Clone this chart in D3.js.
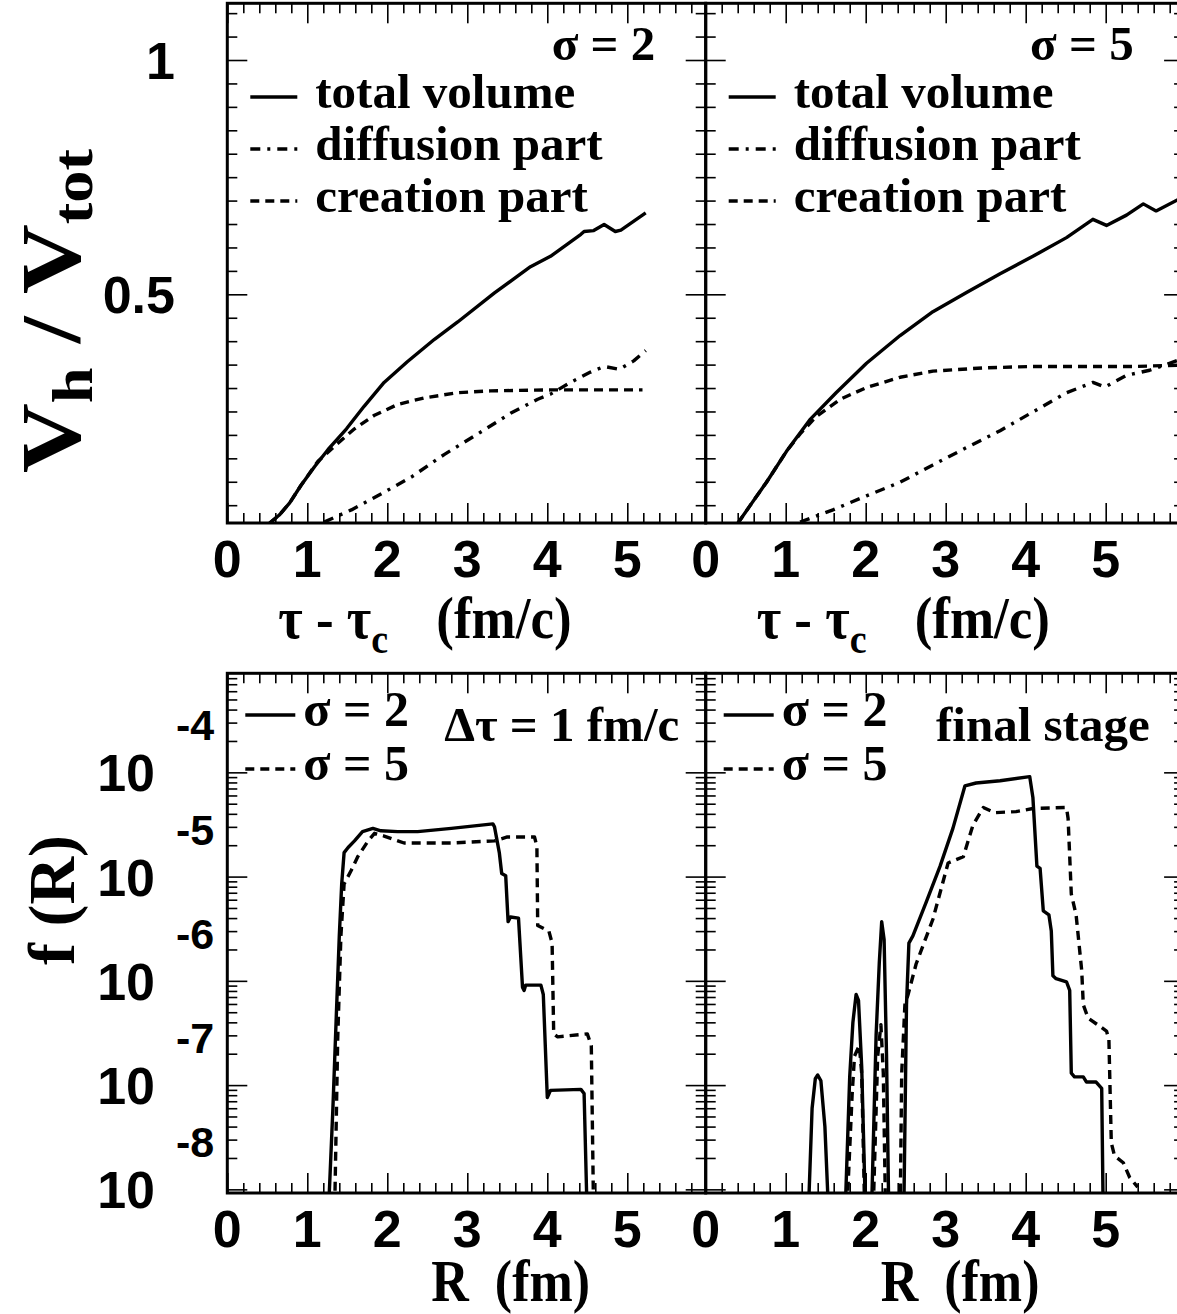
<!DOCTYPE html>
<html lang="en">
<head>
<meta charset="utf-8" />
<title>Vh/Vtot and f(R)</title>
<style>
  body { margin: 0; background: #fff; }
  .sans { font-family: "Liberation Sans", Arial, sans-serif; font-weight: bold; }
  .serif { font-family: "Liberation Serif", "Times New Roman", serif; font-weight: bold; }
</style>
</head>
<body>
<div id="chart"></div>
<script src="https://d3js.org/d3.v7.min.js"></script>
<script>
// ---------------- data ----------------
const tauTicks = [0, 1, 2, 3, 4, 5];
const volTicks = [0.5, 1];
const volTickLabels = ["0.5", "1"];
const logDecades = [-8, -7, -6, -5, -4];

// top panels: [tau - tau_c, Vh/Vtot]
const totS2 = [[0.53,0.012],[0.65,0.029],[0.78,0.055],[0.92,0.092],[1.09,0.132],[1.26,0.169],[1.49,0.213],[1.71,0.261],[1.96,0.312],[2.25,0.356],[2.59,0.404],[2.88,0.441],[3.34,0.503],[3.79,0.559],[4.04,0.581],[4.42,0.628],[4.46,0.634],[4.58,0.636],[4.71,0.649],[4.85,0.634],[4.92,0.637],[5.23,0.674]];
const creS2 = [[0.53,0.012],[0.65,0.029],[0.78,0.055],[0.92,0.092],[1.13,0.143],[1.36,0.179],[1.59,0.213],[1.84,0.242],[2.13,0.265],[2.46,0.279],[2.88,0.290],[3.29,0.294],[4.04,0.296],[5.19,0.296]];
const difS2 = [[1.21,0.014],[1.55,0.040],[1.88,0.070],[2.30,0.110],[2.71,0.158],[3.13,0.202],[3.54,0.246],[3.88,0.276],[4.04,0.287],[4.29,0.312],[4.54,0.334],[4.71,0.346],[4.90,0.340],[5.08,0.358],[5.23,0.380]];

const totS5 = [[0.40,0.011],[0.55,0.048],[0.76,0.099],[1.01,0.165],[1.30,0.232],[1.63,0.290],[2.01,0.353],[2.43,0.412],[2.84,0.463],[3.26,0.504],[3.68,0.544],[4.09,0.581],[4.51,0.621],[4.84,0.660],[5.01,0.647],[5.26,0.669],[5.47,0.693],[5.63,0.678],[5.95,0.706]];
const creS5 = [[0.40,0.011],[0.55,0.048],[0.76,0.099],[1.01,0.165],[1.18,0.202],[1.38,0.239],[1.68,0.276],[2.01,0.301],[2.43,0.323],[2.84,0.336],[3.47,0.343],[4.09,0.346],[5.34,0.346],[5.95,0.349]];
const difS5 = [[1.18,0.014],[1.59,0.040],[2.01,0.070],[2.43,0.099],[2.84,0.136],[3.26,0.173],[3.68,0.209],[4.09,0.249],[4.51,0.290],[4.84,0.312],[4.99,0.302],[5.26,0.327],[5.55,0.338],[5.95,0.362]];

// bottom panels: [R, f(R)]
const dtS2 = [[1.26,5e-9],[1.32,6.0e-8],[1.36,4.1e-7],[1.40,2.7e-6],[1.43,8.5e-6],[1.46,1.7e-5],[1.51,1.9e-5],[1.59,2.2e-5],[1.69,2.7e-5],[1.82,2.9e-5],[1.92,2.75e-5],[2.13,2.7e-5],[2.38,2.7e-5],[2.80,2.9e-5],[3.32,3.2e-5],[3.34,3.0e-5],[3.40,1.7e-5],[3.43,1.07e-5],[3.48,1.02e-5],[3.51,3.7e-6],[3.54,4.1e-6],[3.64,4.0e-6],[3.69,8.7e-7],[3.71,8.1e-7],[3.73,9.1e-7],[3.92,9.1e-7],[3.95,7.4e-7],[4.00,7.6e-8],[4.04,8.9e-8],[4.42,9.1e-8],[4.46,8.3e-8],[4.50,5e-9]];
const dtS5 = [[1.34,5e-9],[1.38,2.75e-7],[1.42,2.7e-6],[1.46,8.5e-6],[1.55,1.15e-5],[1.63,1.55e-5],[1.76,2.2e-5],[1.84,2.6e-5],[1.96,2.45e-5],[2.21,2.1e-5],[2.80,2.1e-5],[3.34,2.2e-5],[3.50,2.4e-5],[3.84,2.4e-5],[3.87,1.95e-5],[3.88,3.4e-6],[4.02,3.0e-6],[4.06,2.3e-6],[4.08,3.1e-7],[4.13,2.9e-7],[4.50,3.1e-7],[4.55,2.4e-7],[4.58,5e-9]];

const finS2 = [[1.28,5e-9],[1.33,6e-8],[1.37,1.15e-7],[1.40,1.25e-7],[1.44,1.1e-7],[1.49,4e-8],[1.54,5e-9],
  [1.74,5e-9],[1.80,1.2e-7],[1.84,4e-7],[1.88,7.4e-7],[1.91,6.5e-7],[1.95,1.5e-7],[2.00,5e-9],
  [2.07,5e-9],[2.13,3e-7],[2.17,1.5e-6],[2.20,3.7e-6],[2.23,2.5e-6],[2.26,2e-7],[2.29,5e-9],
  [2.475,5e-9],[2.51,5.9e-7],[2.54,2.3e-6],[2.59,2.7e-6],[2.76,5.8e-6],[2.93,1.26e-5],[3.09,2.9e-5],[3.24,7.4e-5],[3.38,7.9e-5],[3.68,8.3e-5],[4.05,9.1e-5],[4.09,5.75e-5],[4.14,1.26e-5],[4.18,1.2e-5],[4.22,4.7e-6],[4.29,4.3e-6],[4.32,3.0e-6],[4.34,1.12e-6],[4.38,1.05e-6],[4.51,9.8e-7],[4.55,8.1e-7],[4.57,1.3e-7],[4.61,1.2e-7],[4.72,1.2e-7],[4.76,1.07e-7],[4.88,1.07e-7],[4.95,9.3e-8],[4.97,5e-9]];
const finS5 = [[1.76,5e-9],[1.83,8e-8],[1.86,1.9e-7],[1.92,2.4e-7],[1.95,1.3e-7],[1.99,5e-9],
  [2.09,5e-9],[2.15,1.9e-7],[2.19,3.8e-7],[2.22,1.3e-7],[2.25,5e-9],
  [2.43,5e-9],[2.45,1.3e-7],[2.49,5.9e-7],[2.53,7.4e-7],[2.63,1.45e-6],[2.84,3.9e-6],[3.03,1.35e-5],[3.22,1.55e-5],[3.34,3.1e-5],[3.47,4.6e-5],[3.61,4.1e-5],[3.88,4.2e-5],[4.09,4.5e-5],[4.51,4.6e-5],[4.53,3.6e-5],[4.57,6.8e-6],[4.63,4.3e-6],[4.70,1.26e-6],[4.72,5.9e-7],[4.78,4.4e-7],[5.01,3.3e-7],[5.04,2.75e-7],[5.07,2.8e-8],[5.11,2.1e-8],[5.22,1.8e-8],[5.30,1.3e-8],[5.40,1.05e-8]];

// ---------------- layout ----------------
const W = 1177, H = 1314;
const colX = [227.3, 705.7], panelW = 478.4;
const topRow = { y0: 3.3, y1: 523 }, botRow = { y0: 673.3, y1: 1193 };

const styles = {
  solid: null,
  dash: "9,6",
  dashdot: "10,7,3,7"
};

const svg = d3.select("#chart").append("svg")
  .attr("width", W).attr("height", H);

const defs = svg.append("defs");

function xScale(col) {
  return d3.scaleLinear().domain([0, 5.98]).range([colX[col], colX[col] + panelW]);
}
const yTop = d3.scaleLinear().domain([0.012, 1.121]).range([topRow.y1, topRow.y0]);
const yBot = d3.scaleLog().domain([Math.pow(10, -8.035), Math.pow(10, -3.05)]).range([botRow.y1, botRow.y0]);

// minor tick values
const xMinor = d3.range(0, 6.0, 0.2).filter(v => Math.abs(v - Math.round(v)) > 0.01);
const yMinorTop = d3.range(0.05, 1.12, 0.05).filter(v => Math.abs(v * 2 - Math.round(v * 2)) > 0.01);
const yMinorBot = [];
for (let e = -9; e <= -4; e++) for (let k = 2; k <= 9; k++) {
  const v = k * Math.pow(10, e);
  if (v > yBot.domain()[0] && v < yBot.domain()[1]) yMinorBot.push(v);
}
const yMajorBot = logDecades.map(e => Math.pow(10, e)).filter(v => v > yBot.domain()[0] && v < yBot.domain()[1]);

function tickAxis(g, axis, len) {
  g.call(axis.tickSize(-len).tickFormat(""));
  g.select(".domain").remove();
  g.selectAll(".tick line").attr("stroke", "#000").attr("stroke-width", 1.6);
}

function drawPanel(col, row, y, yMajor, yMinor, series, id) {
  const x = xScale(col);
  const x0 = colX[col], x1 = x0 + panelW;
  const g = svg.append("g");

  // ticks on all four sides, pointing inwards
  [[d3.axisBottom, row.y1], [d3.axisTop, row.y0]].forEach(([fn, ty]) => {
    tickAxis(g.append("g").attr("transform", `translate(0,${ty})`), fn(x).tickValues(tauTicks), 20);
    tickAxis(g.append("g").attr("transform", `translate(0,${ty})`), fn(x).tickValues(xMinor), 10);
  });
  [[d3.axisLeft, x0], [d3.axisRight, x1]].forEach(([fn, tx]) => {
    tickAxis(g.append("g").attr("transform", `translate(${tx},0)`), fn(y).tickValues(yMajor), 20);
    tickAxis(g.append("g").attr("transform", `translate(${tx},0)`), fn(y).tickValues(yMinor), 10);
  });

  defs.append("clipPath").attr("id", id)
    .append("rect").attr("x", x0).attr("y", row.y0).attr("width", panelW).attr("height", row.y1 - row.y0);

  const line = d3.line().x(d => x(d[0])).y(d => y(d[1]));
  g.append("g").attr("clip-path", `url(#${id})`)
    .selectAll("path").data(series).join("path")
    .attr("d", d => line(d.values))
    .attr("fill", "none")
    .attr("stroke", "#000")
    .attr("stroke-width", 3.4)
    .attr("stroke-linejoin", "round")
    .attr("stroke-dasharray", d => styles[d.style]);

  g.append("rect")
    .attr("x", x0).attr("y", row.y0).attr("width", panelW).attr("height", row.y1 - row.y0)
    .attr("fill", "none").attr("stroke", "#000").attr("stroke-width", 3);

  return { g, x };
}

const pTL = drawPanel(0, topRow, yTop, volTicks, yMinorTop, [
  { values: totS2, style: "solid" }, { values: difS2, style: "dashdot" }, { values: creS2, style: "dash" }], "cTL");
const pTR = drawPanel(1, topRow, yTop, volTicks, yMinorTop, [
  { values: totS5, style: "solid" }, { values: difS5, style: "dashdot" }, { values: creS5, style: "dash" }], "cTR");
const pBL = drawPanel(0, botRow, yBot, yMajorBot, yMinorBot, [
  { values: dtS2, style: "solid" }, { values: dtS5, style: "dash" }], "cBL");
const pBR = drawPanel(1, botRow, yBot, yMajorBot, yMinorBot, [
  { values: finS2, style: "solid" }, { values: finS5, style: "dash" }], "cBR");

// ---------------- tick labels ----------------
[[pTL, 577], [pTR, 577], [pBL, 1247], [pBR, 1247]].forEach(([p, by]) => {
  svg.append("g").selectAll("text").data(tauTicks).join("text")
    .attr("class", "sans").attr("font-size", 52).attr("text-anchor", "middle")
    .attr("x", d => p.x(d)).attr("y", by).text(d => d);
});
svg.append("g").selectAll("text").data(volTicks).join("text")
  .attr("class", "sans").attr("font-size", 52).attr("text-anchor", "end")
  .attr("x", 175).attr("y", d => yTop(d) + 19).text((d, i) => volTickLabels[i]);

const decLab = svg.append("g").selectAll("g").data(logDecades).join("g");
decLab.append("text").attr("class", "sans").attr("font-size", 52).attr("text-anchor", "end")
  .attr("x", 155).attr("y", d => yBot(Math.pow(10, d)) + 19).text("10");
decLab.append("text").attr("class", "sans").attr("font-size", 43).attr("text-anchor", "start")
  .attr("x", 176).attr("y", d => yBot(Math.pow(10, d)) - 32).text(d => "-" + Math.abs(d));

// ---------------- axis titles ----------------
function tauTitle(x0) {
  const t = svg.append("text").attr("class", "serif").attr("font-size", 53)
    .attr("transform", `translate(${x0 + 51},638) scale(1,1.12)`);
  t.append("tspan").text("τ - τ");
  t.append("tspan").attr("font-size", 38).attr("dy", 13).text("c");
  svg.append("text").attr("class", "serif").attr("font-size", 53)
    .attr("transform", `translate(${x0 + 209},638) scale(1,1.12)`)
    .text("(fm/c)");
}
tauTitle(colX[0]); tauTitle(colX[1]);

function rTitle(x0) {
  const t = svg.append("text").attr("class", "serif").attr("font-size", 52)
    .attr("transform", `translate(${x0},1301) scale(1,1.15)`);
  t.append("tspan").text("R");
  t.append("tspan").attr("dx", 26).text("(fm)");
}
rTitle(colX[0] + 204); rTitle(colX[1] + 175);

const vt = svg.append("text").attr("class", "serif").attr("font-size", 84)
  .attr("text-anchor", "middle").attr("transform", "translate(80,311) rotate(-90) scale(1.15,1)");
vt.append("tspan").text("V");
vt.append("tspan").attr("font-size", 56).attr("dy", 12).text("h");
vt.append("tspan").attr("dy", -12).text(" / V");
vt.append("tspan").attr("font-size", 56).attr("dy", 12).text("tot");

svg.append("text").attr("class", "serif").attr("font-size", 66)
  .attr("text-anchor", "middle").attr("transform", "translate(74,900) rotate(-90)")
  .text("f (R)");

// ---------------- legends ----------------
const topLegend = [
  { label: "total volume", style: "solid", y: 97 },
  { label: "diffusion part", style: "dashdot", y: 149 },
  { label: "creation part", style: "dash", y: 201 }
];
const sigmaTop = ["σ = 2", "σ = 5"];
[0, 1].forEach(c => {
  const x0 = colX[c];
  const lg = svg.append("g").selectAll("g").data(topLegend).join("g");
  lg.append("line").attr("x1", x0 + 23).attr("x2", x0 + 70)
    .attr("y1", d => d.y).attr("y2", d => d.y)
    .attr("stroke", "#000").attr("stroke-width", 3.4)
    .attr("stroke-dasharray", d => styles[d.style]);
  lg.append("text").attr("class", "serif").attr("font-size", 49)
    .attr("x", x0 + 88).attr("y", d => d.y + 11).text(d => d.label);
  svg.append("text").attr("class", "serif").attr("font-size", 49).attr("text-anchor", "end")
    .attr("x", x0 + 428).attr("y", 60).text(sigmaTop[c]);
});

const botLegend = [
  { label: "σ = 2", style: "solid", y: 715 },
  { label: "σ = 5", style: "dash", y: 769 }
];
const botNote = ["Δτ = 1 fm/c", "final stage"];
[0, 1].forEach(c => {
  const x0 = colX[c];
  const lg = svg.append("g").selectAll("g").data(botLegend).join("g");
  lg.append("line").attr("x1", x0 + 18).attr("x2", x0 + 68)
    .attr("y1", d => d.y).attr("y2", d => d.y)
    .attr("stroke", "#000").attr("stroke-width", 3.4)
    .attr("stroke-dasharray", d => styles[d.style]);
  lg.append("text").attr("class", "serif").attr("font-size", 50)
    .attr("x", x0 + 76).attr("y", d => d.y + 11).text(d => d.label);
  svg.append("text").attr("class", "serif").attr("font-size", 49).attr("text-anchor", "end")
    .attr("x", c === 0 ? x0 + 452 : x0 + 444).attr("y", 741).text(botNote[c]);
});
</script>
</body>
</html>
